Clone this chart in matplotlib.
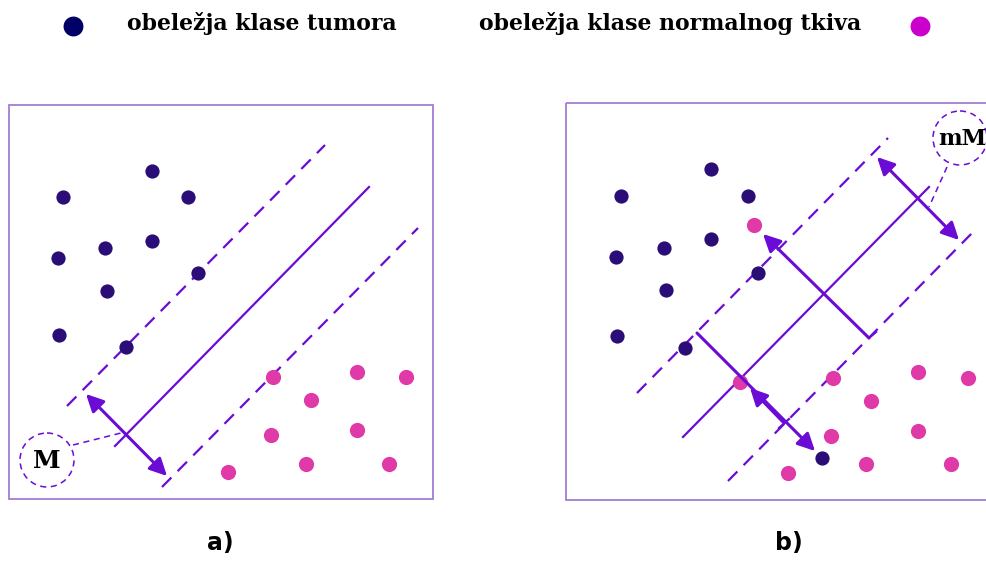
import matplotlib.pyplot as plt
from matplotlib.patches import Circle, Rectangle

# colours
TUMOR = '#2b0d78'
NORMAL = '#e03aa8'
LINE = '#6a0bd6'
FRAME = '#a27cd4'

# legend labels
legend_labels = ['obeležja klase tumora', 'obeležja klase normalnog tkiva']
panel_labels = ['a)', 'b)']

# panel a) points (pixel coordinates read from the picture)
a_tumor_x = [63, 152, 188, 105, 152, 58, 198, 107, 59, 126]
a_tumor_y = [197, 171, 197, 248, 241, 258, 273, 291, 335, 347]
a_normal_x = [273, 357, 406, 311, 271, 357, 228, 306, 389]
a_normal_y = [377, 372, 377, 400, 435, 430, 472, 464, 464]

# panel b) points
b_tumor_x = [621, 711, 748, 664, 711, 616, 758, 666, 617, 685, 822]
b_tumor_y = [196, 169, 196, 248, 239, 257, 273, 290, 336, 348, 458]
b_normal_x = [754, 740, 833, 918, 968, 871, 831, 918, 788, 866, 951]
b_normal_y = [225, 382, 378, 372, 378, 401, 436, 431, 473, 464, 464]

# separating lines: (x0, y0, x1, y1)
a_solid = [(115, 446, 369, 187)]
a_dashed = [(67, 406, 325, 145), (162, 487, 418, 228)]
b_solid = [(683, 437, 929, 187)]
b_dashed = [(637, 393, 888, 138), (728, 481, 977, 228)]

fig = plt.figure(figsize=(9.87, 5.61), dpi=100)
ax = fig.add_axes([0, 0, 1, 1])
ax.set_xlim(0, 987)
ax.set_ylim(561, 0)
ax.axis('off')

# frames
ax.add_patch(Rectangle((9, 105), 424, 394, fill=False, ec=FRAME, lw=1.3))
ax.add_patch(Rectangle((566, 103), 430, 397, fill=False, ec=FRAME, lw=1.3))

for segs, ls in [(a_solid, '-'), (a_dashed, '--'), (b_solid, '-'), (b_dashed, '--')]:
    for x0, y0, x1, y1 in segs:
        ax.plot([x0, x1], [y0, y1], color=LINE, lw=1.6, ls=ls, dashes=(6, 4) if ls == '--' else (None, None))

ax.scatter(a_tumor_x, a_tumor_y, s=105, color=TUMOR, zorder=3, lw=0)
ax.scatter(a_normal_x, a_normal_y, s=120, color=NORMAL, zorder=3, lw=0)
ax.scatter(b_tumor_x, b_tumor_y, s=105, color=TUMOR, zorder=3, lw=0)
ax.scatter(b_normal_x, b_normal_y, s=120, color=NORMAL, zorder=3, lw=0)

# margin arrows
arrow_kw = dict(color=LINE, lw=2.2, shrinkA=0, shrinkB=0, mutation_scale=26)
ax.annotate('', xy=(167, 476), xytext=(86, 394), arrowprops=dict(arrowstyle='<|-|>', **arrow_kw), zorder=4)
ax.annotate('', xy=(959, 240), xytext=(877, 157), arrowprops=dict(arrowstyle='<|-|>', **arrow_kw), zorder=4)
ax.annotate('', xy=(763, 234), xytext=(869, 338), arrowprops=dict(arrowstyle='-|>', **arrow_kw), zorder=4)
ax.annotate('', xy=(815, 451), xytext=(697, 333), arrowprops=dict(arrowstyle='-|>', **arrow_kw), zorder=4)
ax.annotate('', xy=(750, 388), xytext=(784, 423), arrowprops=dict(arrowstyle='-|>', **arrow_kw), zorder=4)
ax.plot([779, 789], [428, 419], color=LINE, lw=1.6)
ax.plot([869, 876], [338, 332], color=LINE, lw=1.6)

# M / mM callouts
ax.add_patch(Circle((47, 460), 27, fill=False, ec=LINE, lw=1.1, ls=(0, (4, 3))))
ax.plot([73, 125], [445, 432], color=LINE, lw=1.1, ls=(0, (4, 3)))
ax.text(47, 461, 'M', ha='center', va='center', fontsize=18, fontweight='bold', family='DejaVu Serif')
ax.add_patch(Circle((960, 138), 27, fill=False, ec=LINE, lw=1.1, ls=(0, (4, 3))))
ax.plot([947, 929], [167, 207], color=LINE, lw=1.1, ls=(0, (4, 3)))
ax.text(962, 139, 'mM', ha='center', va='center', fontsize=16, fontweight='bold', family='DejaVu Serif')

# legend at top
ax.scatter([73], [26], s=205, color='#000066', lw=0)
ax.scatter([920], [26], s=205, color='#cc00cc', lw=0)
ax.text(262, 23, legend_labels[0], ha='center', va='center', fontsize=15.8, fontweight='bold', family='DejaVu Serif')
ax.text(670, 23, legend_labels[1], ha='center', va='center', fontsize=15.8, fontweight='bold', family='DejaVu Serif')

# panel labels
ax.text(220, 543, panel_labels[0], ha='center', va='center', fontsize=17, fontweight='bold', family='DejaVu Sans')
ax.text(789, 543, panel_labels[1], ha='center', va='center', fontsize=17, fontweight='bold', family='DejaVu Sans')

fig.savefig('out.png', dpi=100)
